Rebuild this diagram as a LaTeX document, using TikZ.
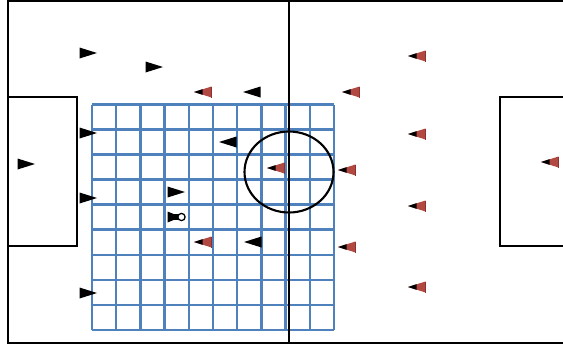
\documentclass[tikz,border=0pt]{standalone}
\usepackage{tikz}
\usetikzlibrary{calc}

\definecolor{gridblue}{RGB}{79,129,189}
\definecolor{conered}{RGB}{178,72,66}
\definecolor{conedark}{RGB}{140,50,46}

\tikzset{
  pitchline/.style={
    draw=black,
    line width=3pt
  },
  gridline/.style={
    draw=gridblue,
    line width=3.6pt
  },
  attacker/.pic={
    \fill[black] (-8.5,-5.5) -- (9,0) -- (-8.5,5.5) -- cycle;
  },
  presser/.pic={
    \fill[black] (8.5,-5.5) -- (-9,0) -- (8.5,5.5) -- cycle;
  },
  defender/.pic={
    \fill[conered] (8.5,-5.5) -- (-9,0) -- (8.5,5.5) -- cycle;
    \fill[black] (-0.5,-2.8) -- (-9,0) -- (-0.5,2.8) -- cycle;
    \draw[conedark, line width=1.2pt] (8.5,-5.5) -- (8.5,5.5);
  },
  carrier/.pic={
    \fill[black] (-8.5,-5.5) -- (5,0) -- (-8.5,5.5) -- cycle;
    \fill[black] (-3,-2.8) rectangle (3,2.8);
    \draw[black, fill=white, line width=1.8pt] (5.5,0) circle (3.6);
  }
}

\begin{document}
\begin{tikzpicture}[x=0.5mm, y=-0.5mm]

\useasboundingbox (0,0) rectangle (563,347);

% --- grille 10 x 9 ---
\foreach \i in {0,...,10}
  \draw[gridline] ({92+24.2*\i},104.5) -- ({92+24.2*\i},330);
\foreach \j in {0,...,9}
  \draw[gridline] (92,{104.5+25.05*\j}) -- (334,{104.5+25.05*\j});

% --- terrain ---
\draw[pitchline] (563,1) -- (8,1) -- (8,343) -- (563,343);
\draw[pitchline] (289,1) -- (289,343);
\draw[pitchline] (8,97) -- (77,97) -- (77,246) -- (8,246);
\draw[pitchline] (563,97) -- (500,97) -- (500,246) -- (563,246);
\draw[pitchline] (289,172) ellipse (44.5 and 40.5);

% --- equipe A ---
\foreach \px/\py in {88/53, 154/67, 88/133, 26/164, 88/198, 176/192, 88/293}
  \pic at (\px,\py) {attacker};
\pic at (176,217) {carrier};
\foreach \px/\py in {252/92, 228/142, 253/242}
  \pic at (\px,\py) {presser};

% --- equipe B ---
\foreach \px/\py in {203/92, 351/92, 417/56, 276/168, 347/170, 417/134,
                     417/206, 347/247, 203/242, 417/287, 550/162}
  \pic at (\px,\py) {defender};

\end{tikzpicture}
\end{document}
